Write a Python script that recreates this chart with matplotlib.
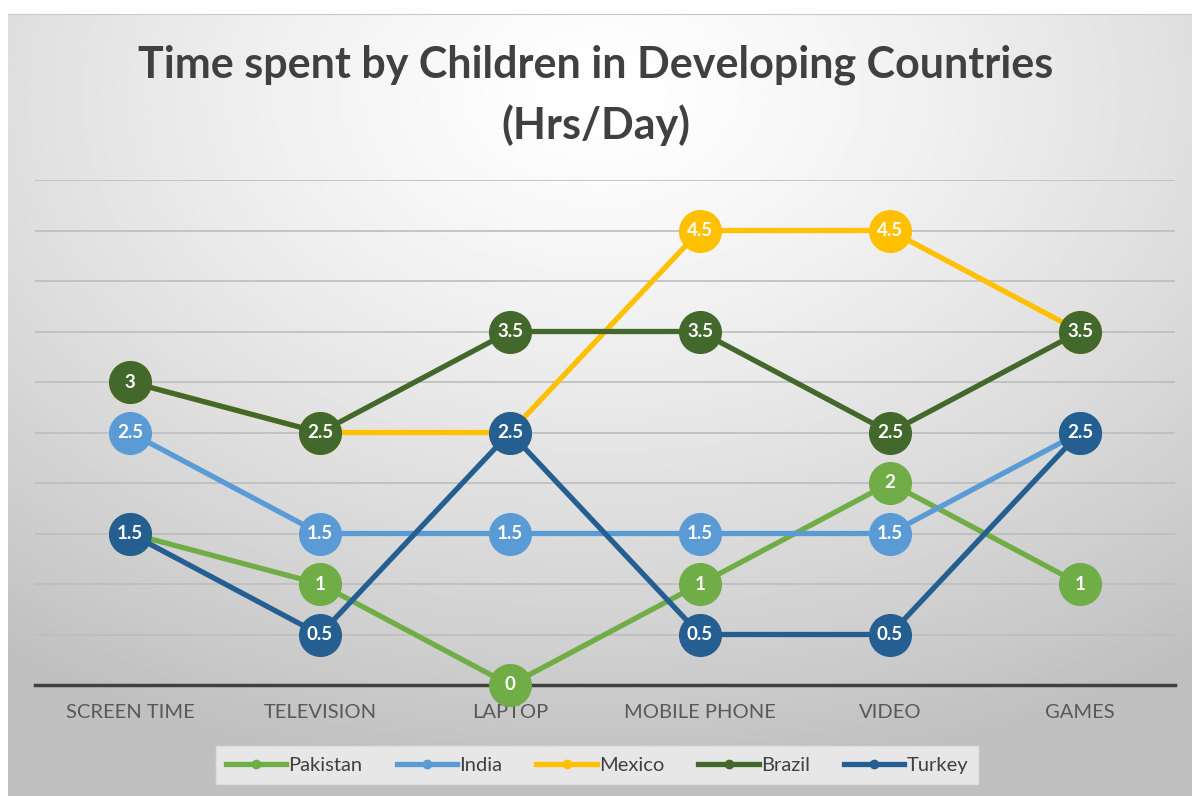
import numpy as np
import matplotlib.pyplot as plt

plt.rcParams['font.family'] = ['Lato', 'DejaVu Sans']

categories = ['SCREEN TIME', 'TELEVISION', 'LAPTOP', 'MOBILE PHONE', 'VIDEO', 'GAMES']
pakistan = [1.5, 1, 0, 1, 2, 1]
india = [2.5, 1.5, 1.5, 1.5, 1.5, 2.5]
mexico = [3, 2.5, 2.5, 4.5, 4.5, 3.5]
brazil = [3, 2.5, 3.5, 3.5, 2.5, 3.5]
turkey = [1.5, 0.5, 2.5, 0.5, 0.5, 2.5]

series = [
    ('Pakistan', pakistan, '#70ad47'),
    ('India', india, '#5b9bd5'),
    ('Mexico', mexico, '#ffc000'),
    ('Brazil', brazil, '#43682b'),
    ('Turkey', turkey, '#255e91'),
]

W, H = 1192, 796
fig = plt.figure(figsize=(W / 100, H / 100), dpi=100)
fig.patch.set_facecolor('white')

# radial grey gradient behind the chart
bg = fig.add_axes([8 / W, 0, 1 - 8 / W, (H - 14) / H])
yy, xx = np.mgrid[0:400, 0:600]
cx, cy = 300, 40
r = np.sqrt(((xx - cx) / 600) ** 2 + ((yy - cy) / 420) ** 2)
r = np.clip(r / 0.85, 0, 1)
shade = 1.0 - 0.25 * r ** 1.3
bg.imshow(shade, cmap='gray', vmin=0, vmax=1, aspect='auto', extent=[0, 1, 0, 1],
          origin='upper', interpolation='bilinear')
bg.set_xlim(0, 1)
bg.set_ylim(0, 1)
for s in bg.spines.values():
    s.set_visible(False)
bg.spines['top'].set_visible(True)
bg.spines['top'].set_color('#c8c8c8')
bg.set_xticks([])
bg.set_yticks([])

ax = fig.add_axes([35 / W, (H - 685) / H, 1140 / W, 505 / H])
ax.patch.set_alpha(0)
x = np.arange(len(categories))

for i, (name, vals, col) in enumerate(series):
    ax.plot(x, vals, color=col, lw=3.8, marker='o', ms=30, mec=col, mfc=col,
            label=name, zorder=3 + i, solid_capstyle='round', clip_on=False)
    for xi, v in zip(x, vals):
        ax.text(xi, v, f'{v:g}', ha='center', va='center', color='white',
                fontsize=13.5, fontweight='bold', zorder=3.5 + i)

ax.set_xlim(-0.5, len(categories) - 0.5)
ax.set_ylim(0, 5)
ax.set_yticks(np.arange(0, 5.01, 0.5))
ax.yaxis.grid(True, color='#bdbdbd', lw=1.2)
ax.set_axisbelow(True)
ax.tick_params(axis='y', left=False, labelleft=False)
ax.tick_params(axis='x', length=0, pad=14, labelsize=14.5, labelcolor='#595959')
ax.set_xticks(x)
ax.set_xticklabels(categories)
for s in ['top', 'right', 'left']:
    ax.spines[s].set_visible(False)
ax.spines['bottom'].set_color('#404040')
ax.spines['bottom'].set_linewidth(2.5)
ax.spines['bottom'].set_zorder(2.5)

fig.text(0.5, (H - 65) / H, 'Time spent by Children in Developing Countries',
         ha='center', va='center', fontsize=31, fontweight='bold', color='#404040')
fig.text(0.5, (H - 125) / H, '(Hrs/Day)',
         ha='center', va='center', fontsize=31, fontweight='bold', color='#404040')

labels = [name for name, _, _ in series]
leg_handles = [plt.Line2D([0], [0], color=c, lw=3.8, marker='o', ms=6, mfc=c, mec=c)
               for _, _, c in series]
leg = fig.legend(leg_handles, labels, loc='center', bbox_to_anchor=(597 / W, (H - 765) / H),
                 ncol=5, frameon=True, fontsize=14.5, handlelength=3.0, handletextpad=0.1,
                 columnspacing=1.7, borderpad=0.5, fancybox=False)
leg.get_frame().set_facecolor('#ececec')
leg.get_frame().set_edgecolor('#e0e0e0')
leg.get_frame().set_alpha(0.9)
for t in leg.get_texts():
    t.set_color('#404040')

fig.savefig('out.png', dpi=100)
